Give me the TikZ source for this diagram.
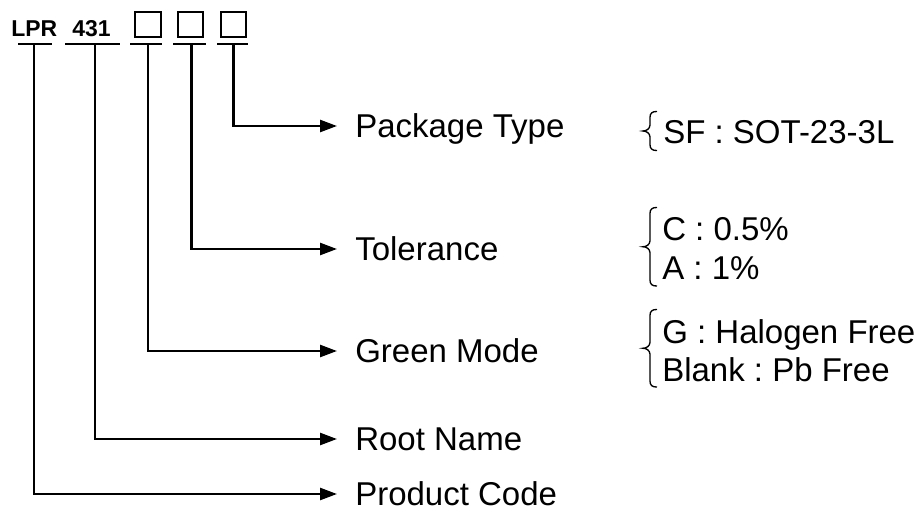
\documentclass[tikz,border=0pt]{standalone}
\usepackage{fontspec}
\setmainfont{Liberation Sans}
\usetikzlibrary{arrows.meta,calc}
\frenchspacing
% curly brace from a top point #1 to a bottom point #2, tip to the left
\newcommand{\optbrace}[2]{%
  \draw[brc] (#1) .. controls +(-5,0) and +(0,-4) .. ++(-7,6)
    -- ($(#1)!.5!(#2)+(-7,-6)$) .. controls +(0,4) and +(3,0) .. ($(#1)!.5!(#2)+(-14,0)$)
    .. controls +(3,0) and +(0,-4) .. ($(#1)!.5!(#2)+(-7,6)$)
    -- ($(#2)+(-7,-6)$) .. controls +(0,4) and +(-5,0) .. (#2);}
\begin{document}
\begin{tikzpicture}[x=0.75pt,y=0.75pt,yscale=-1,xscale=1,
  conn/.style={line width=1.9pt,-{Triangle[length=12.75pt,width=9pt]}},
  bar/.style={line width=1.9pt},
  cbox/.style={draw,line width=1.3pt,minimum size=19pt,inner sep=0pt},
  hdr/.style={anchor=base west,inner sep=0pt,font=\fontsize{17.2}{20}\selectfont\bfseries},
  lbl/.style={anchor=west,inner xsep=13.5pt,inner ysep=0pt,text height=17.7pt,text depth=0pt,font=\fontsize{24.75}{30}\selectfont},
  opt/.style={anchor=west,inner sep=0pt,text height=17.7pt,text depth=0pt,font=\fontsize{24.75}{30}\selectfont},
  brc/.style={line width=1pt}]
\useasboundingbox (0,0) rectangle (922,510);

% Part number
\node[hdr] (lpr) at (11,36.5) {LPR};
\node[hdr] (num) at (72,36.5) {431};
\node[cbox] (b1) at (148,24.5) {};
\node[cbox] (b2) at (190.5,24.5) {};
\node[cbox] (b3) at (233.5,24.5) {};

% Underlines
\draw[bar] (18,44) -- (52,44);
\draw[bar] (65,44) -- (120,44);
\draw[bar] (130,44) -- (162,44);
\draw[bar] (173,44) -- (206,44);
\draw[bar] (217,44) -- (248,44);
\coordinate (lprT) at (34,44);
\coordinate (numT) at (95,44);
\coordinate (b1T) at (148,44);
\coordinate (b2T) at (191.5,44);
\coordinate (b3T) at (233.5,44);

% Labels
\node[lbl] (pkg) at (337,126) {Package Type};
\node[lbl] (tol) at (337,249) {Tolerance};
\node[lbl] (grn) at (337,351) {Green Mode};
\node[lbl] (rname) at (337,439) {Root Name};
\node[lbl] (pcode) at (337,494) {Product Code};

% Connectors
\draw[conn] (b3T) |- (pkg.west);
\draw[conn] (b2T) |- (tol.west);
\draw[conn] (b1T) |- (grn.west);
\draw[conn] (numT) |- (rname.west);
\draw[conn] (lprT) |- (pcode.west);

% Options
\node[opt] (sf) at (663,131.5) {SF : SOT-23-3L};
\node[opt] (tc) at (662,228.5) {C : 0.5\%};
\node[opt] (ta) at (662,268) {A : 1\%};
\node[opt] (gg) at (662,331.5) {G : Halogen Free};
\node[opt] (gb) at (662,370) {Blank : Pb Free};

% Braces
\coordinate (sfU) at ($(sf.north west)+(-6,-8)$);
\coordinate (sfD) at ($(sf.south west)+(-6,7)$);
\coordinate (tolU) at ($(tc.north west)+(-5,-9)$);
\coordinate (tolD) at ($(ta.south west)+(-5,6)$);
\coordinate (grnU) at ($(gg.north west)+(-5,-10)$);
\coordinate (grnD) at ($(gb.south west)+(-5,5)$);
\optbrace{sfU}{sfD}
\optbrace{tolU}{tolD}
\optbrace{grnU}{grnD}
\end{tikzpicture}
\end{document}
